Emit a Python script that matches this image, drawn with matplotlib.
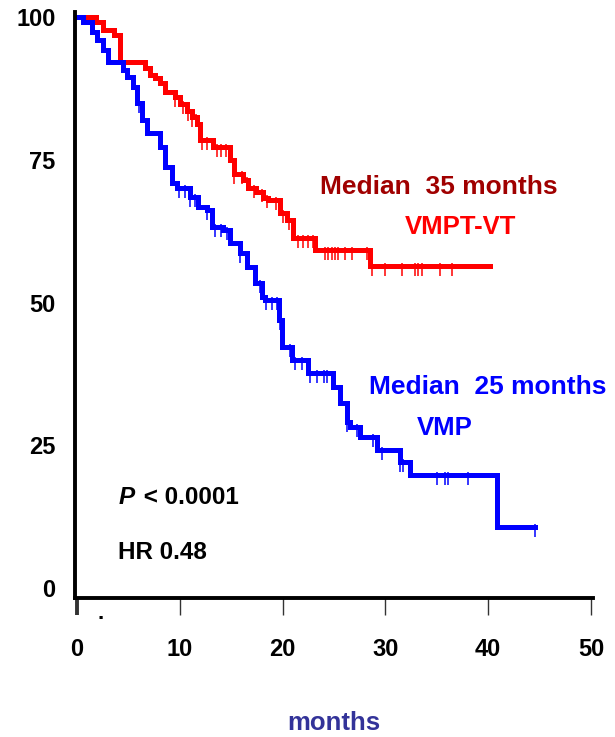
import numpy as np
import matplotlib
matplotlib.use("Agg")
import matplotlib.pyplot as plt
from matplotlib.path import Path

plt.rcParams['font.family'] = ['Liberation Sans', 'DejaVu Sans']

# ---- data ----
red_times = [0, 1.85, 2.5, 3.6, 4.2, 6.6, 7.1, 7.6, 8.1, 8.6, 9.5, 10.0, 10.7, 11.2, 11.7,
             12.0, 13.2, 14.9, 15.3, 16.1, 16.6, 17.4, 18.1, 18.6, 19.7, 20.4, 21.0,
             23.2, 28.5, 40.2]
red_surv = [100, 99.1, 97.7, 96.8, 92.1, 91.1, 89.8, 89.3, 88.4, 86.9, 86.0, 84.8, 83.5, 82.5, 81.2,
            78.5, 77.2, 74.9, 72.5, 71.5, 70.1, 69.4, 68.3, 67.9, 65.7, 64.5, 61.3,
            59.2, 56.4, 56.4]
red_censor = [9.5, 10.3, 10.8, 11.2, 11.6, 12.2, 12.6, 13.6, 14.0, 14.5, 15.3, 16.0, 16.5,
              17.2, 18.0, 18.5, 19.4, 20.0, 20.6, 21.5, 22.0, 22.5, 23.0, 24.1, 24.4, 24.8,
              25.1, 25.4, 26.1, 26.8, 28.2, 28.7, 30.0, 31.6, 32.9, 33.2, 33.6, 35.3, 36.5]

blue_times = [0, 0.6, 1.5, 1.9, 2.5, 3.0, 4.5, 4.9, 5.4, 5.8, 6.3, 6.8, 8.1, 8.6, 9.2, 9.7,
              11.0, 11.8, 12.6, 13.1, 14.2, 14.9, 15.9, 16.5, 17.3, 18.0, 18.3, 19.6, 19.9,
              20.9, 22.5, 24.9, 25.6, 26.3, 26.6, 27.5, 29.2, 31.4, 32.4, 40.9, 44.6]
blue_surv = [100, 99.1, 97.4, 96.0, 94.2, 92.1, 90.7, 89.5, 87.7, 84.9, 82.0, 79.7, 77.2, 73.7,
             70.9, 70.1, 68.5, 66.7, 66.2, 63.2, 62.7, 60.4, 58.7, 56.2, 53.4, 51.0, 50.4,
             46.9, 42.2, 39.9, 37.7, 35.2, 32.4, 29.1, 28.2, 26.4, 24.2, 22.1, 19.8, 10.7, 10.7]
blue_censor = [6.0, 9.9, 10.5, 11.0, 11.5, 12.6, 13.4, 14.0, 14.6, 15.9, 17.8, 18.4, 19.0,
               19.5, 19.7, 20.7, 21.2, 21.9, 22.7, 23.3, 24.0, 24.3, 26.3, 27.2, 28.8, 29.7,
               31.4, 31.7, 35.0, 35.8, 36.1, 38.0, 44.6]

x_ticks = [0, 10, 20, 30, 40, 50]
y_ticks = [0, 25, 50, 75, 100]

RED = '#FF0000'
BLUE = '#0000FF'


def surv_at(times, surv, t):
    idx = np.searchsorted(np.asarray(times), t, side='right') - 1
    return np.asarray(surv)[idx]


fig = plt.figure(figsize=(6.15, 7.37), dpi=100)
ax = fig.add_axes([75 / 615, 1 - 598 / 737, 518 / 615, 586 / 737])

tick_marker = Path([(0, 0.3), (0, -1.0)], [Path.MOVETO, Path.LINETO])

ax.plot(red_times, red_surv, drawstyle='steps-post', color=RED, lw=3.6, solid_joinstyle='miter')
ax.plot(blue_times, blue_surv, drawstyle='steps-post', color=BLUE, lw=3.6, solid_joinstyle='miter')
ax.plot(red_censor, surv_at(red_times, red_surv, red_censor), ls='none', marker=tick_marker,
        ms=15, mew=1.1, color=RED)
ax.plot(blue_censor, surv_at(blue_times, blue_surv, blue_censor), ls='none', marker=tick_marker,
        ms=15, mew=1.1, color=BLUE)

ax.set_xlim(-0.2, 50.2)
ax.set_ylim(-1.75, 100.9)

for s in ['top', 'right']:
    ax.spines[s].set_visible(False)
ax.spines['left'].set_linewidth(2.8)
ax.spines['bottom'].set_linewidth(2.8)

ax.set_xticks(x_ticks)
ax.set_xticklabels([str(v) for v in x_ticks], fontsize=17, fontweight='bold')
ax.set_yticks(y_ticks)
ax.set_yticklabels([str(v) for v in y_ticks], fontsize=17, fontweight='bold')
ax.tick_params(axis='x', direction='out', length=12, width=1.0, color='#333333', pad=17)
ax.tick_params(axis='y', length=0, pad=14)
t0 = ax.xaxis.get_major_ticks()[0]
t0.tick1line.set_markeredgewidth(2.8)
t0.tick1line.set_color('black')

ax.set_xlabel('months', fontsize=18.5, fontweight='bold', color='#333399', labelpad=36)

ax.text(35.2, 70.2, 'Median  35 months', color='#A00000', fontsize=19, fontweight='bold',
        ha='center', va='center')
ax.text(37.3, 63.2, 'VMPT-VT', color=RED, fontsize=18.5, fontweight='bold',
        ha='center', va='center')
ax.text(40.0, 35.2, 'Median  25 months', color=BLUE, fontsize=19, fontweight='bold',
        ha='center', va='center')
ax.text(35.8, 28.0, 'VMP', color=BLUE, fontsize=18.5, fontweight='bold',
        ha='center', va='center')
ax.text(4.0, 15.9, 'P', fontsize=17.5, fontweight='bold', style='italic', ha='left', va='center')
ax.text(5.8, 15.9, ' < 0.0001', fontsize=17.5, fontweight='bold', ha='left', va='center')
ax.text(4.0, 6.3, 'HR 0.48', fontsize=17.5, fontweight='bold', ha='left', va='center')
ax.text(2.3, -4.5, '.', fontsize=16, fontweight='bold', ha='center', va='center')

fig.savefig('out.png', dpi=100)
